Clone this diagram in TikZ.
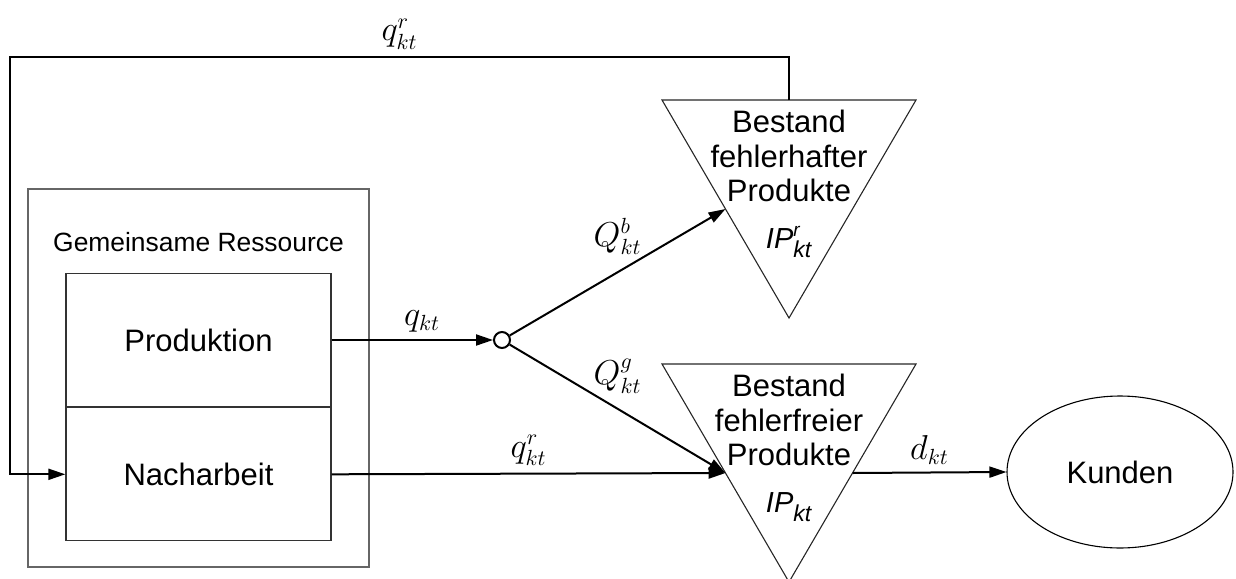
\documentclass[tikz,border=0pt]{standalone}
\usepackage{amsmath}
\usepackage{fontspec}
\setmainfont{Liberation Sans}
\usetikzlibrary{calc}
\usetikzlibrary{arrows.meta,positioning,shapes.geometric}

\tikzset{
  box/.style={draw=black!80, line width=0.65pt, minimum width=132.5pt, minimum height=66.5pt, inner sep=0pt, font=\fontsize{15.5}{18}\selectfont},
  flow/.style={line width=1pt, -{Triangle[length=8.5pt,width=5.5pt]}},
  lbl/.style={font=\fontsize{16}{19}\selectfont},
  lager/.style={draw=black!85, line width=0.55pt},
  lagertext/.style={align=center, inner sep=0pt, font=\fontsize{15.5}{17.25}\selectfont},
}
\newcommand{\ipsym}[1]{{\fontsize{14.5}{16}\selectfont\textit{IP}}\rlap{\raisebox{6pt}{\fontsize{9.5}{11}\selectfont\textit{#1}}}\raisebox{-4.5pt}{\fontsize{11.5}{13}\selectfont\textit{kt}}}

\begin{document}
\begin{tikzpicture}[x=0.5pt,y=-0.5pt]
    \useasboundingbox (0,0) rectangle (1236,578);
    % gemeinsame Ressource mit Produktion und Nacharbeit
    \node[draw=black!60, line width=0.7pt, minimum width=170.5pt, minimum height=189pt] (res) at (198.5,378) {};
    \node[font=\fontsize{13.2}{16}\selectfont] (reslabel) at (198.5,242) {Gemeinsame Ressource};
    \node[box] (prod) at (198.5,340) {Produktion};
    \node[box, below=0pt of prod] (nach) {Nacharbeit};
    % Verzweigung nach der Produktion
    \node[circle, draw, line width=1pt, minimum size=8pt, inner sep=0pt] (split) at (502,340) {};
    % Lager fehlerhafter Produkte
    \draw[lager] (662,100) coordinate (bfh-nw) -- (916,100) coordinate (bfh-ne) -- (789,318) coordinate (bfh-s) -- cycle;
    \coordinate (bfh-top) at ($(bfh-nw)!0.5!(bfh-ne)$);
    \coordinate (bfh-in) at ($(bfh-nw)!0.5!(bfh-s)$);
    \node[lagertext] (bfh) at (789,184) {Bestand\\fehlerhafter\\Produkte\\[6pt]\ipsym{r}};
    % Lager fehlerfreier Produkte
    \draw[lager] (662,364) coordinate (bff-nw) -- (916,364) coordinate (bff-ne) -- (789,582) coordinate (bff-s) -- cycle;
    \coordinate (bff-in) at ($(bff-nw)!0.5!(bff-s)$);
    \coordinate (bff-out) at ($(bff-ne)!0.5!(bff-s)$);
    \node[lagertext] (bff) at (789,448) {Bestand\\fehlerfreier\\Produkte\\[6pt]\ipsym{}};
    % Kunden
    \node[ellipse, draw, line width=0.55pt, minimum width=113pt, minimum height=76pt, font=\fontsize{15.5}{18}\selectfont] (kunden) at (1120,472) {Kunden};
    % Fluesse
    \coordinate (fb) at (10,57);
    \draw[flow] (bfh-top) |- node[lbl, pos=0.75, above] {$q^r_{kt}$} (fb) |- (nach.west);
    \draw[flow] (prod.east) -- node[lbl, pos=0.56, above] {$q_{kt}$} (split);
    \draw[flow] (split) -- node[lbl, above=5pt] {$Q^b_{kt}$} (bfh-in);
    \draw[flow] (split) -- node[lbl, above=4pt] {$Q^g_{kt}$} (bff-in);
    \draw[flow] (nach.east) -- node[lbl, above] {$q^r_{kt}$} (bff-in);
    \draw[flow] (bff-out) -- node[lbl, above] {$d_{kt}$} (kunden.west);
\end{tikzpicture}
\end{document}
